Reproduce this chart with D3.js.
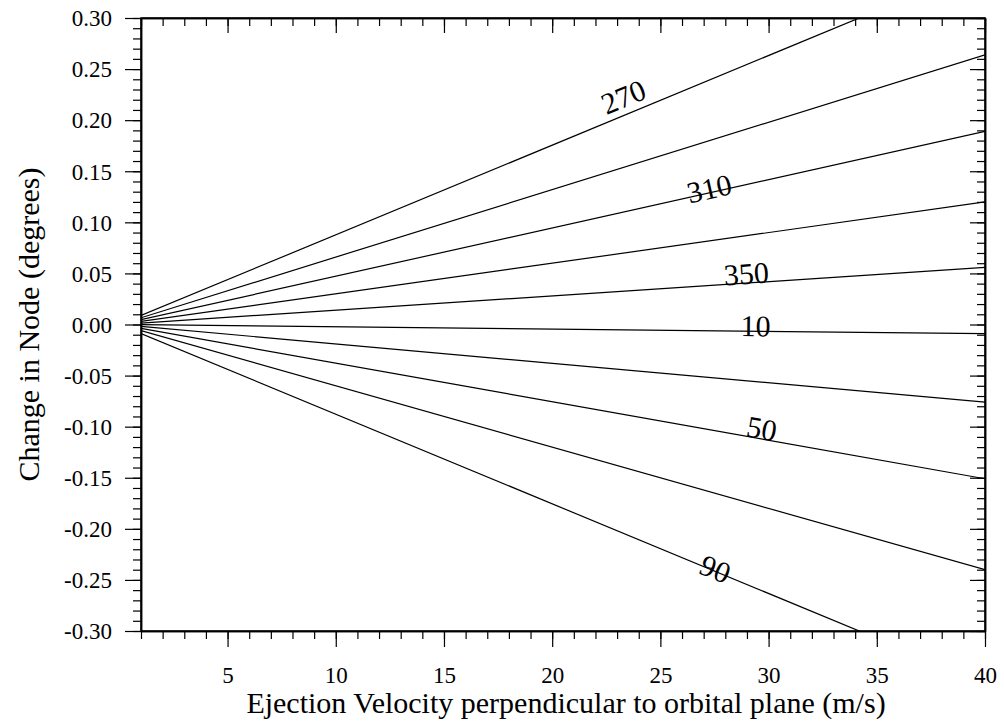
<!DOCTYPE html>
<html>
<head>
<meta charset="utf-8">
<script src="https://cdn.jsdelivr.net/npm/d3@7"></script>
<style>
    body { margin: 0; background: #fff; }
    svg { display: block; }
</style>
</head>
<body>
<div id="chart"></div>
<script>
// Each line: ejection angle (deg), change in node read at v = 1 and v = 40 m/s.
const velocity_ends = [1, 40];
const angles = [270, 290, 310, 330, 350, 10, 30, 50, 70, 90];
const node_at_start = [0.0088, 0.0066, 0.0047, 0.0030, 0.0014, -0.0002, -0.0019, -0.0038, -0.0060, -0.0088];
const node_at_end = [0.351, 0.264, 0.189, 0.120, 0.056, -0.009, -0.076, -0.151, -0.240, -0.351];

// Labelled lines and the velocity the label sits at.
const labelled_angles = [270, 310, 350, 10, 50, 90];
const label_velocity = [23.6, 27.3, 29.0, 29.4, 29.6, 27.5];

const x_ticks = [5, 10, 15, 20, 25, 30, 35, 40];
const y_ticks = [-0.30, -0.25, -0.20, -0.15, -0.10, -0.05, 0.00, 0.05, 0.10, 0.15, 0.20, 0.25, 0.30];

const FONT = '"Liberation Serif", "Times New Roman", serif';

const dims = {
    width: 1004,
    height: 723,
    top: 18,
    right: 19,
    bottom: 92,
    left: 141,
};
const plot_w = dims.width - dims.left - dims.right;
const plot_h = dims.height - dims.top - dims.bottom;

// baseline shift (px) of each label relative to its line
const label_dy = [-7, 6, 1, 5, 0, 8];

const svg = d3.select('#chart')
    .append('svg')
    .attr('width', dims.width)
    .attr('height', dims.height);

const g = svg.append('g')
    .attr('transform', `translate(${dims.left}, ${dims.top})`);

const x = d3.scaleLinear().domain([1, 40]).range([0, plot_w]);
const y = d3.scaleLinear().domain([-0.30, 0.30]).range([plot_h, 0]);

g.append('clipPath')
    .attr('id', 'plot-clip')
    .append('rect')
    .attr('width', plot_w)
    .attr('height', plot_h);

// lines
const series = angles.map((a, i) => ({
    angle: a,
    points: velocity_ends.map((v, j) => ({ v: v, node: j === 0 ? node_at_start[i] : node_at_end[i] })),
}));

const line = d3.line()
    .x((d) => x(d.v))
    .y((d) => y(d.node));

g.append('g')
    .attr('clip-path', 'url(#plot-clip)')
    .selectAll('path')
    .data(series)
    .join('path')
        .attr('fill', 'none')
        .attr('stroke', '#000')
        .attr('stroke-width', 1.2)
        .attr('d', (d) => line(d.points));

// minor ticks every 1 m/s and every 0.01 deg
const x_minor = d3.range(1, 41);
const y_minor = d3.range(-30, 31).map((d) => d / 100);

function tick_axis(axis_fn, scale, values, size, fmt) {
    return axis_fn(scale)
        .tickValues(values)
        .tickSize(size)
        .tickSizeOuter(0)
        .tickFormat(fmt || '');
}

// plain hyphen for negatives, as in the original
const y_fmt = (d) => d3.format('.2f')(d).replace('\u2212', '-');

// bottom axis: ticks point outward
g.append('g')
    .attr('transform', `translate(0, ${plot_h})`)
    .call(tick_axis(d3.axisBottom, x, x_minor, 8));
const x_axis = g.append('g')
    .attr('transform', `translate(0, ${plot_h})`)
    .call(tick_axis(d3.axisBottom, x, x_ticks, 16, d3.format('d')).tickPadding(20));

// top axis: mirrored, ticks point into the plot
g.append('g')
    .call(tick_axis(d3.axisBottom, x, x_minor, 8));
g.append('g')
    .call(tick_axis(d3.axisBottom, x, x_ticks, 15));

// left axis: ticks point outward
g.append('g')
    .call(tick_axis(d3.axisLeft, y, y_minor, 8));
const y_axis = g.append('g')
    .call(tick_axis(d3.axisLeft, y, y_ticks, 16, y_fmt).tickPadding(13));

// right axis: ticks point into the plot
g.append('g')
    .attr('transform', `translate(${plot_w}, 0)`)
    .call(tick_axis(d3.axisLeft, y, y_minor, 8));
g.append('g')
    .attr('transform', `translate(${plot_w}, 0)`)
    .call(tick_axis(d3.axisLeft, y, y_ticks, 15));

g.selectAll('.domain').attr('stroke', '#000').attr('stroke-width', 1.5);
g.selectAll('.tick line').attr('stroke', '#000').attr('stroke-width', 1.2);

x_axis.selectAll('text')
    .style('font-family', FONT)
    .style('font-size', '23px')
    .attr('fill', '#000');
y_axis.selectAll('text')
    .style('font-family', FONT)
    .style('font-size', '23px')
    .attr('dy', '0.34em')
    .attr('fill', '#000');

// frame
g.append('rect')
    .attr('width', plot_w)
    .attr('height', plot_h)
    .attr('fill', 'none')
    .attr('stroke', '#000')
    .attr('stroke-width', 1.5);

// line labels, rotated along each line
labelled_angles.forEach((a, k) => {
    const i = angles.indexOf(a);
    const s = series[i];
    const p0 = s.points[0], p1 = s.points[1];
    const v = label_velocity[k];
    const node = p0.node + (p1.node - p0.node) * (v - p0.v) / (p1.v - p0.v);
    const ang = Math.atan2(y(p1.node) - y(p0.node), x(p1.v) - x(p0.v)) * 180 / Math.PI;
    g.append('text')
        .attr('transform', `translate(${x(v)}, ${y(node)}) rotate(${ang})`)
        .attr('text-anchor', 'middle')
        .attr('dy', label_dy[k])
        .style('font-family', FONT)
        .style('font-size', '30px')
        .text(a);
});

// axis titles
svg.append('text')
    .attr('x', dims.left + plot_w / 2 + 3)
    .attr('y', 713)
    .attr('text-anchor', 'middle')
    .style('font-family', FONT)
    .style('font-size', '30px')
    .text('Ejection Velocity perpendicular to orbital plane (m/s)');

svg.append('text')
    .attr('transform', `translate(39, ${dims.top + plot_h / 2}) rotate(-90)`)
    .attr('text-anchor', 'middle')
    .style('font-family', FONT)
    .style('font-size', '30px')
    .text('Change in Node (degrees)');
</script>
</body>
</html>
